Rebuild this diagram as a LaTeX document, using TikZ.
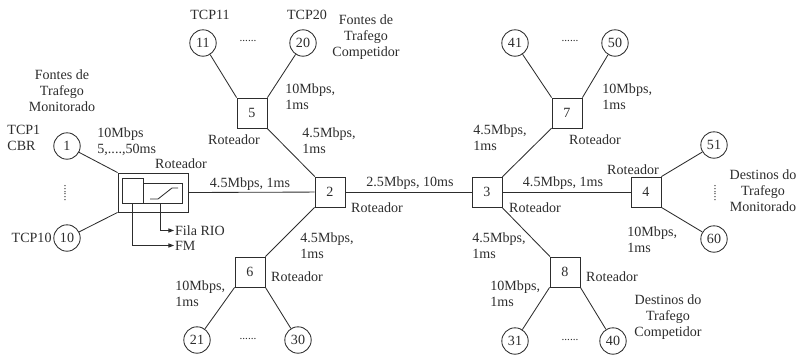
\documentclass[tikz,border=0pt]{standalone}
\usepackage{fontspec}
\setmainfont{Liberation Serif}
\usepackage{xcolor}
\usepackage{tikz}
\usetikzlibrary{arrows.meta,positioning}
\definecolor{ink}{RGB}{45,45,45}
\begin{document}
\begin{tikzpicture}[x=0.025cm,y=-0.025cm,color=ink,line width=0.6pt,
 font=\fontsize{10}{11.5}\selectfont,>={Triangle[length=4pt,width=3pt]},
 rot/.style={draw,minimum size=0.75cm,inner sep=0pt},
 src/.style={circle,draw,minimum size=0.66cm,inner sep=0pt},
 lbl/.style={align=left,inner sep=0pt,anchor=west},
 txt/.style={align=center,inner sep=0pt},
 dotrow/.style={font=\footnotesize,inner sep=0pt}]
\useasboundingbox (0,0) rectangle (800,356);
% roteadores do backbone
\node[rot] (r2) at (330,192) {2};
\node[rot] (r3) at (487,192) {3};
\node[rot] (r4) at (646,192) {4};
\node[rot] (r5) at (252,113) {5};
\node[rot] (r6) at (250,272) {6};
\node[rot] (r7) at (567,113) {7};
\node[rot] (r8) at (565,272) {8};
% roteador de borda com FM e fila RIO
\node[draw,minimum width=1.75cm,minimum height=0.975cm,inner sep=0pt] (r1) at (153,192.5) {};
\node[draw,minimum width=0.525cm,minimum height=0.625cm,inner sep=0pt] (fm) at (132.5,190.5) {};
\node[draw,minimum width=0.975cm,minimum height=0.5cm,inner sep=0pt,anchor=south west] (rio) at (fm.south east) {};
\draw (150,199) -- (158,199) -- (172,188) -- (178,188);
\node[anchor=west,inner sep=0.5pt] (riolbl) at (174,230.5) {Fila RIO};
\node[anchor=west,inner sep=0.5pt] (fmlbl) at (174,245.5) {FM};
\draw[->] ([xshift=-2pt]rio.south) |- (riolbl.west);
\draw[->] (fm.south) |- (fmlbl.west);
% fontes e destinos
\node[src] (s1) at (67,146) {1};
\node[src] (s10) at (67,238) {10};
\node[src] (s11) at (203,43) {11};
\node[src] (s20) at (303,43) {20};
\node[src] (s21) at (197,340) {21};
\node[src] (s30) at (298,340) {30};
\node[src] (s31) at (515,341) {31};
\node[src] (s40) at (613,341) {40};
\node[src] (s41) at (515,43) {41};
\node[src] (s50) at (615,43) {50};
\node[src] (s51) at (714,145) {51};
\node[src] (s60) at (714,239) {60};
% enlaces
\draw (s1) -- (r1.north west); \draw (s10) -- (r1.south west);
\draw (r1.east) -- (r2); \draw (r2) -- (r3) -- (r4);
\foreach \a/\b in {r2/r5,r2/r6,r3/r7,r3/r8}{\draw (\a) -- (\b);}
\foreach \s/\r in {s11/r5.north west,s20/r5.north east,s21/r6.south west,s30/r6.south east,
 s41/r7.north west,s50/r7.north east,s31/r8.south west,s40/r8.south east,
 s51/r4.north east,s60/r4.south east}{\draw (\s) -- (\r);}
% rotulos
\node[txt] at (62,91) {Fontes de\\Trafego\\Monitorado};
\node[lbl] at (7,138) {TCP1\\CBR};
\node[anchor=east,inner sep=1pt] at (s10.west) {TCP10};
\node[dotrow,rotate=90] at (65,193) {......};
\node[lbl] at (97,142) {10Mbps\\5,....,50ms};
\node[txt] at (181,164) {Roteador};
\node[txt] at (250,184) {4.5Mbps, 1ms};
\node[txt] at (210,15) {TCP11};
\node[txt] at (307,15) {TCP20};
\node[dotrow] at (248,41) {......};
\node[txt] at (366,37) {Fontes de\\Trafego\\Competidor};
\node[lbl] at (285,97) {10Mbps,\\1ms};
\node[txt] at (234,140) {Roteador};
\node[lbl] at (302,141) {4.5Mbps,\\1ms};
\node[lbl] at (300,246) {4.5Mbps,\\1ms};
\node[txt] at (377,208) {Roteador};
\node[lbl] at (175,294) {10Mbps,\\1ms};
\node[txt] at (297,277) {Roteador};
\node[dotrow] at (248,339) {......};
\node[txt] at (410,183) {2.5Mbps, 10ms};
\node[lbl] at (473,138) {4.5Mbps,\\1ms};
\node[txt] at (535,208) {Roteador};
\node[lbl] at (472,246) {4.5Mbps,\\1ms};
\node[dotrow] at (570,41) {......};
\node[lbl] at (602,97) {10Mbps,\\1ms};
\node[txt] at (595,140) {Roteador};
\node[txt] at (633,170) {Roteador};
\node[txt] at (563,183) {4.5Mbps, 1ms};
\node[lbl] at (627,240) {10Mbps,\\1ms};
\node[dotrow,rotate=90] at (715,193) {......};
\node[txt] at (763,191) {Destinos do\\Trafego\\Monitorado};
\node[lbl] at (490,294) {10Mbps,\\1ms};
\node[txt] at (612,277) {Roteador};
\node[dotrow] at (570,340) {......};
\node[txt] at (668,317) {Destinos do\\Trafego\\Competidor};
\end{tikzpicture}
\end{document}
